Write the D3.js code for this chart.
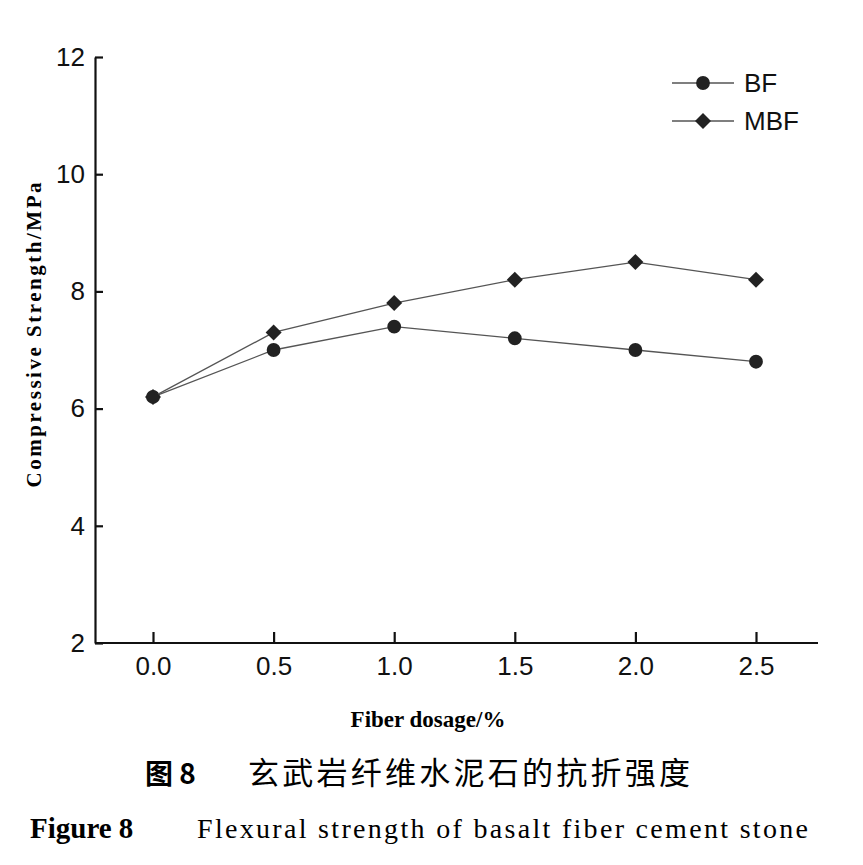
<!DOCTYPE html><html><head><meta charset="utf-8"><script src="https://cdn.jsdelivr.net/npm/d3@7"></script>
<style>body{margin:0;background:#fff}</style></head><body><svg id="c" width="863" height="865"></svg>
<script>
const xTicks=[0.0,0.5,1.0,1.5,2.0,2.5];
const yTicks=[2,4,6,8,10,12];
const dosage=[0.0,0.5,1.0,1.5,2.0,2.5];
const bf=[6.2,7.0,7.4,7.2,7.0,6.8];
const mbf=[6.2,7.3,7.8,8.2,8.5,8.2];
const svg=d3.select("#c");
const x=d3.scaleLinear().domain([0,2.5]).range([153,756]);
const y=d3.scaleLinear().domain([2,12]).range([643,57]);
const sans="'Liberation Sans',Arial,sans-serif", serif="'Liberation Serif','Times New Roman',serif";
const xa=svg.append("g").attr("transform","translate(0,643)").call(d3.axisBottom(x).tickValues(xTicks).tickFormat(d3.format(".1f")).tickSizeInner(-11).tickSizeOuter(0).tickPadding(14));
xa.select(".domain").attr("d","M95,0H818");
const ya=svg.append("g").attr("transform","translate(95,0)").call(d3.axisLeft(y).tickValues(yTicks).tickSizeInner(-8).tickSizeOuter(0).tickPadding(10));
[xa,ya].forEach(a=>{a.attr("font-size",null).attr("font-family",null);a.selectAll("text").style("font-family",sans).style("font-size","26px").attr("fill","#111");a.selectAll("line,path").attr("stroke","#111").attr("stroke-width",2.2);});
const line=d3.line().x((d,i)=>x(dosage[i])).y(d=>y(d));
const col="#555";
const diamond="M0,-8L8,0L0,8L-8,0Z";
const circle=d3.symbol().type(d3.symbolCircle).size(150)();
function series(vals,shape){
 svg.append("path").datum(vals).attr("d",line).attr("fill","none").attr("stroke",col).attr("stroke-width",1.3);
 svg.selectAll(null).data(vals).enter().append("path").attr("d",shape).attr("transform",(d,i)=>`translate(${x(dosage[i])},${y(d)})`).attr("fill","#222");
}
series(bf,circle);
series(mbf,diamond);
const leg=[["BF",circle,83],["MBF",diamond,121]];
leg.forEach(([t,s,ly])=>{
 svg.append("line").attr("x1",672).attr("x2",734).attr("y1",ly).attr("y2",ly).attr("stroke",col).attr("stroke-width",1.3);
 svg.append("path").attr("d",s).attr("transform",`translate(703,${ly})`).attr("fill","#222");
 svg.append("text").attr("x",744).attr("y",ly+9).text(t).style("font-family",sans).style("font-size","26px").attr("fill","#111");
});
svg.append("text").attr("transform","translate(41,335) rotate(-90)").attr("text-anchor","middle").text("Compressive Strength/MPa").style("font-family",serif).attr("font-weight","bold").style("font-size","21px").attr("textLength",305);
svg.append("text").attr("x",428).attr("y",727).attr("text-anchor","middle").text("Fiber dosage/%").style("font-family",serif).attr("font-weight","bold").style("font-size","23px");
svg.append("text").attr("x",145).attr("y",784).text("图 8").style("font-family","'Noto Sans CJK SC'").attr("font-weight","bold").style("font-size","28px");
svg.append("text").attr("x",248).attr("y",784).text("玄武岩纤维水泥石的抗折强度").style("font-family","'Noto Sans CJK SC'").style("font-size","31px").attr("textLength",442);
svg.append("text").attr("x",30).attr("y",838).text("Figure 8").style("font-family",serif).attr("font-weight","bold").style("font-size","29px");
svg.append("text").attr("x",197).attr("y",838).text("Flexural strength of basalt fiber cement stone").style("font-family",serif).style("font-size","28px").attr("textLength",611);
</script></body></html>
